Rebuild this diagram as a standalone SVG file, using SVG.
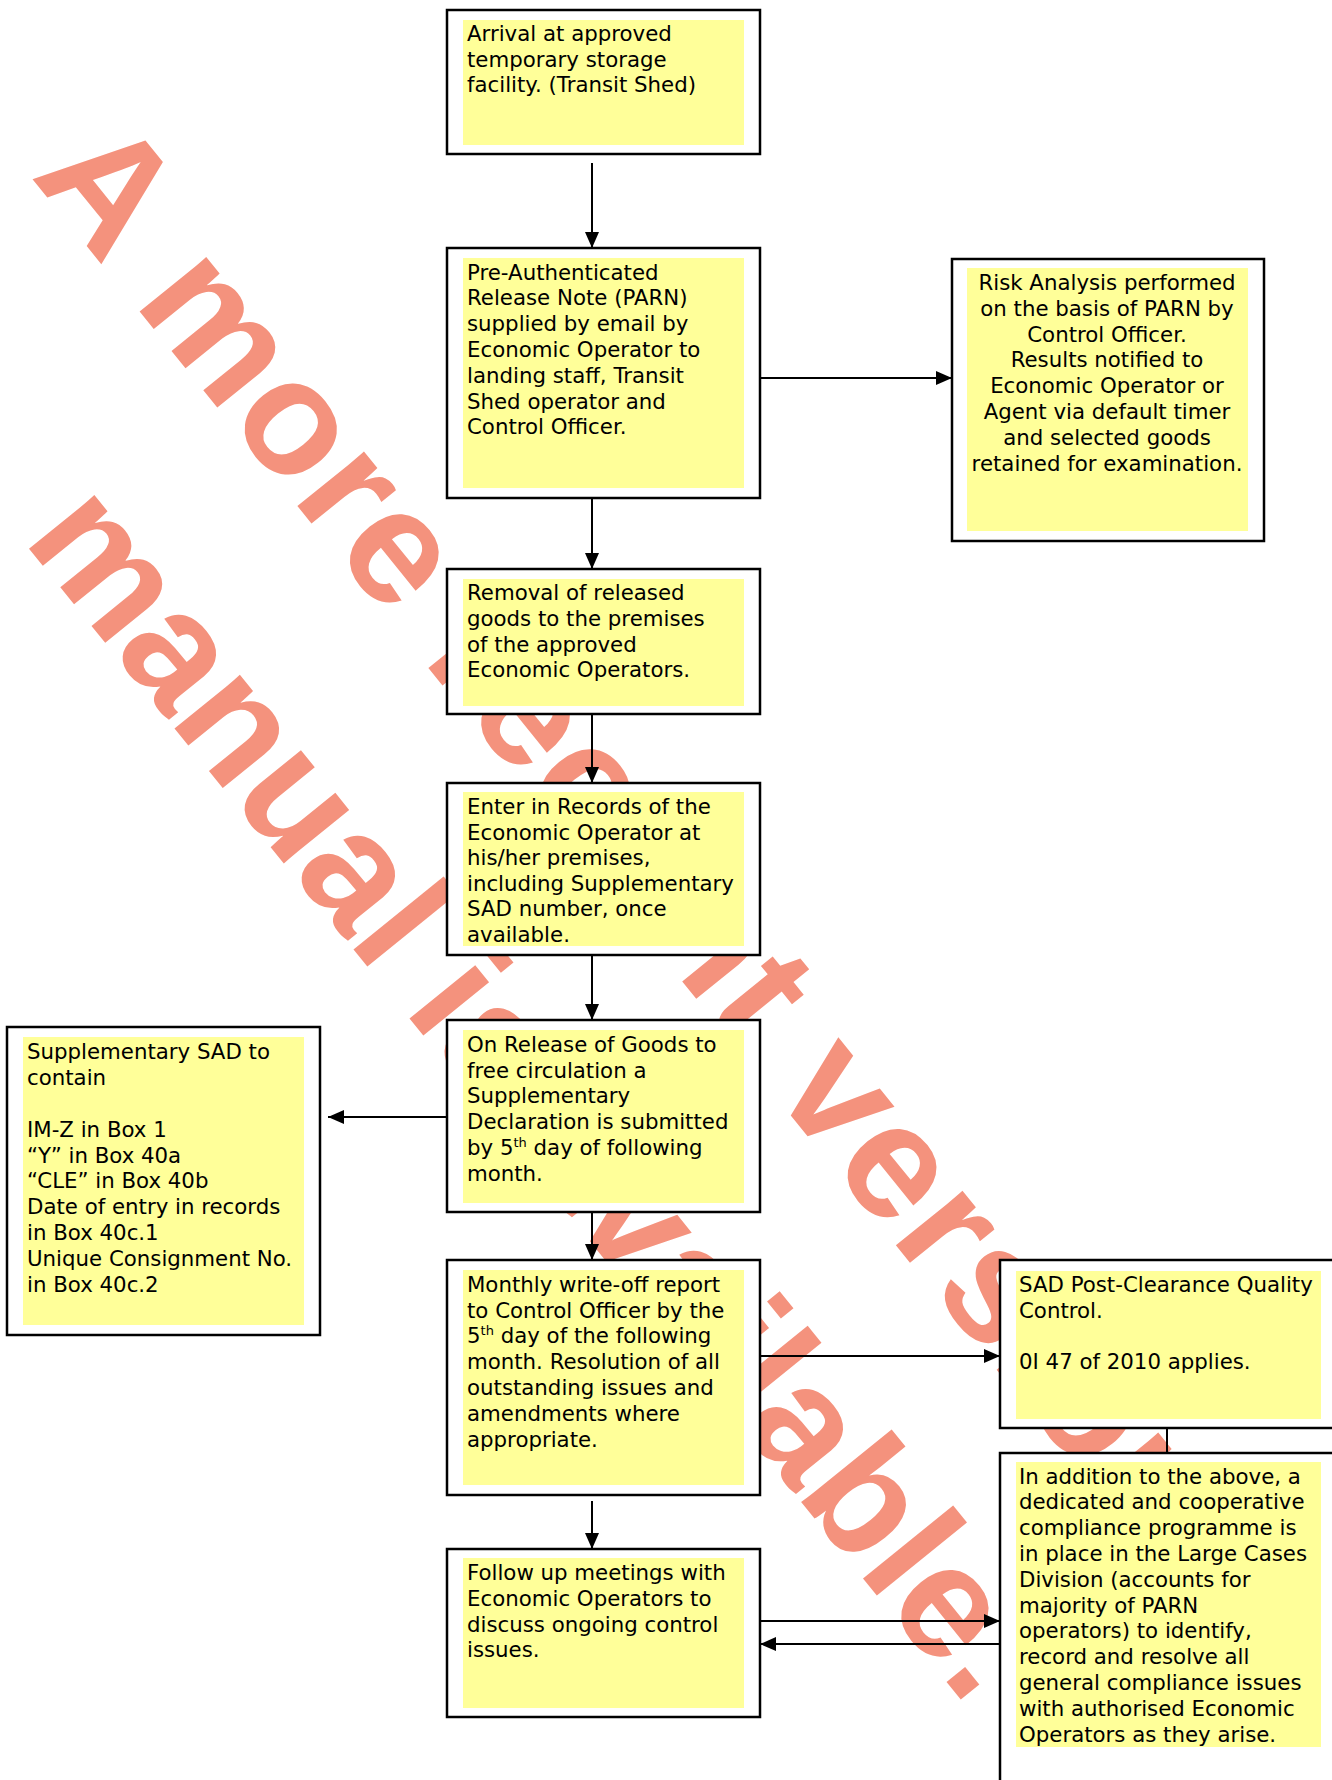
<svg xmlns="http://www.w3.org/2000/svg" width="1332" height="1780" viewBox="0 0 1332 1780">
<style>
.ob{fill:#ffffff;stroke:#000000;stroke-width:2.5}
.yb{fill:#ffff99;stroke:none}
.t{font-family:"DejaVu Sans","Verdana",sans-serif;font-size:21.3px;fill:#000000}
.c{text-anchor:middle}
.sup{font-size:13px}
.wm{font-family:"Liberation Sans",Arial,sans-serif;font-weight:bold;font-size:160px;fill:#f4927d}
.ln{stroke:#000000;stroke-width:2;fill:none}
</style>
<defs>
<marker id="ah" viewBox="0 0 16 14" refX="16" refY="7" markerWidth="16" markerHeight="14" markerUnits="userSpaceOnUse" orient="auto">
<path d="M0,0 L16,7 L0,14 z" fill="#000000"/>
</marker>
</defs>
<rect width="1332" height="1780" fill="#ffffff"/>
<g id="watermark">
<text class="wm" transform="translate(30,176) rotate(51)" x="0" y="0" style="font-size:163px;letter-spacing:3px">A more recent version</text>
<text class="wm" transform="translate(22,540) rotate(51)" x="0" y="0">manual is available.</text>
</g>
<g id="connectors">
<line class="ln" x1="592" y1="163" x2="592" y2="248" marker-end="url(#ah)"/>
<line class="ln" x1="760" y1="378" x2="952" y2="378" marker-end="url(#ah)"/>
<line class="ln" x1="592" y1="498" x2="592" y2="569" marker-end="url(#ah)"/>
<line class="ln" x1="592" y1="714" x2="592" y2="783" marker-end="url(#ah)"/>
<line class="ln" x1="592" y1="955" x2="592" y2="1020" marker-end="url(#ah)"/>
<line class="ln" x1="447" y1="1117" x2="328" y2="1117" marker-end="url(#ah)"/>
<line class="ln" x1="592" y1="1212" x2="592" y2="1260" marker-end="url(#ah)"/>
<line class="ln" x1="760" y1="1356" x2="1000" y2="1356" marker-end="url(#ah)"/>
<line class="ln" x1="1167" y1="1428" x2="1167" y2="1453"/>
<line class="ln" x1="592" y1="1501" x2="592" y2="1549" marker-end="url(#ah)"/>
<line class="ln" x1="760" y1="1621" x2="1000" y2="1621" marker-end="url(#ah)"/>
<line class="ln" x1="1000" y1="1644" x2="760" y2="1644" marker-end="url(#ah)"/>
</g>
<g id="n1">
<rect class="ob" x="447" y="10" width="313" height="144"/>
<rect class="yb" x="463" y="20" width="281" height="125"/>
<text class="t" x="467" y="41">Arrival at approved</text>
<text class="t" x="467" y="66.7">temporary storage</text>
<text class="t" x="467" y="92.4">facility. (Transit Shed)</text>
</g>
<g id="n2">
<rect class="ob" x="447" y="248" width="313" height="250"/>
<rect class="yb" x="463" y="258" width="281" height="230"/>
<text class="t" x="467" y="279.5">Pre-Authenticated</text>
<text class="t" x="467" y="305.3">Release Note (PARN)</text>
<text class="t" x="467" y="331.1">supplied by email by</text>
<text class="t" x="467" y="356.9">Economic Operator to</text>
<text class="t" x="467" y="382.7">landing staff, Transit</text>
<text class="t" x="467" y="408.5">Shed operator and</text>
<text class="t" x="467" y="434.3">Control Officer.</text>
</g>
<g id="n3">
<rect class="ob" x="952" y="259" width="312" height="282"/>
<rect class="yb" x="967" y="268" width="281" height="263"/>
<text class="t c" x="1107" y="290">Risk Analysis performed</text>
<text class="t c" x="1107" y="315.8">on the basis of PARN by</text>
<text class="t c" x="1107" y="341.6">Control Officer.</text>
<text class="t c" x="1107" y="367.4">Results notified to</text>
<text class="t c" x="1107" y="393.2">Economic Operator or</text>
<text class="t c" x="1107" y="419">Agent via default timer</text>
<text class="t c" x="1107" y="444.8">and selected goods</text>
<text class="t c" x="1107" y="470.6">retained for examination.</text>
</g>
<g id="n4">
<rect class="ob" x="447" y="569" width="313" height="145"/>
<rect class="yb" x="463" y="579" width="281" height="127"/>
<text class="t" x="467" y="600">Removal of released</text>
<text class="t" x="467" y="625.8">goods to the premises</text>
<text class="t" x="467" y="651.6">of the approved</text>
<text class="t" x="467" y="677.4">Economic Operators.</text>
</g>
<g id="n5">
<rect class="ob" x="447" y="783" width="313" height="172"/>
<rect class="yb" x="463" y="792" width="281" height="154"/>
<text class="t" x="467" y="814">Enter in Records of the</text>
<text class="t" x="467" y="839.6">Economic Operator at</text>
<text class="t" x="467" y="865.2">his/her premises,</text>
<text class="t" x="467" y="890.8">including Supplementary</text>
<text class="t" x="467" y="916.4">SAD number, once</text>
<text class="t" x="467" y="941.5">available.</text>
</g>
<g id="n6">
<rect class="ob" x="447" y="1020" width="313" height="192"/>
<rect class="yb" x="463" y="1030" width="281" height="173"/>
<text class="t" x="467" y="1051.7">On Release of Goods to</text>
<text class="t" x="467" y="1077.5">free circulation a</text>
<text class="t" x="467" y="1103.3">Supplementary</text>
<text class="t" x="467" y="1129.1">Declaration is submitted</text>
<text class="t" x="467" y="1154.9">by 5<tspan class="sup" dy="-8">th</tspan><tspan dy="8"> day of following</tspan></text>
<text class="t" x="467" y="1180.7">month.</text>
</g>
<g id="n7">
<rect class="ob" x="447" y="1260" width="313" height="235"/>
<rect class="yb" x="463" y="1270" width="281" height="215"/>
<text class="t" x="467" y="1291.7">Monthly write-off report</text>
<text class="t" x="467" y="1317.5">to Control Officer by the</text>
<text class="t" x="467" y="1343.3">5<tspan class="sup" dy="-8">th</tspan><tspan dy="8"> day of the following</tspan></text>
<text class="t" x="467" y="1369.1">month. Resolution of all</text>
<text class="t" x="467" y="1394.9">outstanding issues and</text>
<text class="t" x="467" y="1420.7">amendments where</text>
<text class="t" x="467" y="1446.5">appropriate.</text>
</g>
<g id="n8">
<rect class="ob" x="447" y="1549" width="313" height="168"/>
<rect class="yb" x="463" y="1558" width="281" height="150"/>
<text class="t" x="467" y="1580">Follow up meetings with</text>
<text class="t" x="467" y="1605.8">Economic Operators to</text>
<text class="t" x="467" y="1631.6">discuss ongoing control</text>
<text class="t" x="467" y="1657.4">issues.</text>
</g>
<g id="n9">
<rect class="ob" x="7" y="1027" width="313" height="308"/>
<rect class="yb" x="23" y="1037" width="281" height="288"/>
<text class="t" x="27" y="1059.3">Supplementary SAD to</text>
<text class="t" x="27" y="1085.1">contain</text>
<text class="t" x="27" y="1136.7">IM-Z in Box 1</text>
<text class="t" x="27" y="1162.5">“Y” in Box 40a</text>
<text class="t" x="27" y="1188.3">“CLE” in Box 40b</text>
<text class="t" x="27" y="1214.1">Date of entry in records</text>
<text class="t" x="27" y="1239.9">in Box 40c.1</text>
<text class="t" x="27" y="1265.7">Unique Consignment No.</text>
<text class="t" x="27" y="1291.5">in Box 40c.2</text>
</g>
<g id="n10">
<rect class="ob" x="1000" y="1260" width="345" height="168"/>
<rect class="yb" x="1016" y="1271" width="305" height="148"/>
<text class="t" x="1019" y="1292">SAD Post-Clearance Quality</text>
<text class="t" x="1019" y="1317.8">Control.</text>
<text class="t" x="1019" y="1369.4">0I 47 of 2010 applies.</text>
</g>
<g id="n11">
<rect class="ob" x="1000" y="1453" width="345" height="340"/>
<rect class="yb" x="1016" y="1462" width="305" height="285"/>
<text class="t" x="1019" y="1483.5">In addition to the above, a</text>
<text class="t" x="1019" y="1509.3">dedicated and cooperative</text>
<text class="t" x="1019" y="1535.1">compliance programme is</text>
<text class="t" x="1019" y="1560.9">in place in the Large Cases</text>
<text class="t" x="1019" y="1586.7">Division (accounts for</text>
<text class="t" x="1019" y="1612.5">majority of PARN</text>
<text class="t" x="1019" y="1638.3">operators) to identify,</text>
<text class="t" x="1019" y="1664.1">record and resolve all</text>
<text class="t" x="1019" y="1689.9">general compliance issues</text>
<text class="t" x="1019" y="1715.7">with authorised Economic</text>
<text class="t" x="1019" y="1741.5">Operators as they arise.</text>
</g>
</svg>
